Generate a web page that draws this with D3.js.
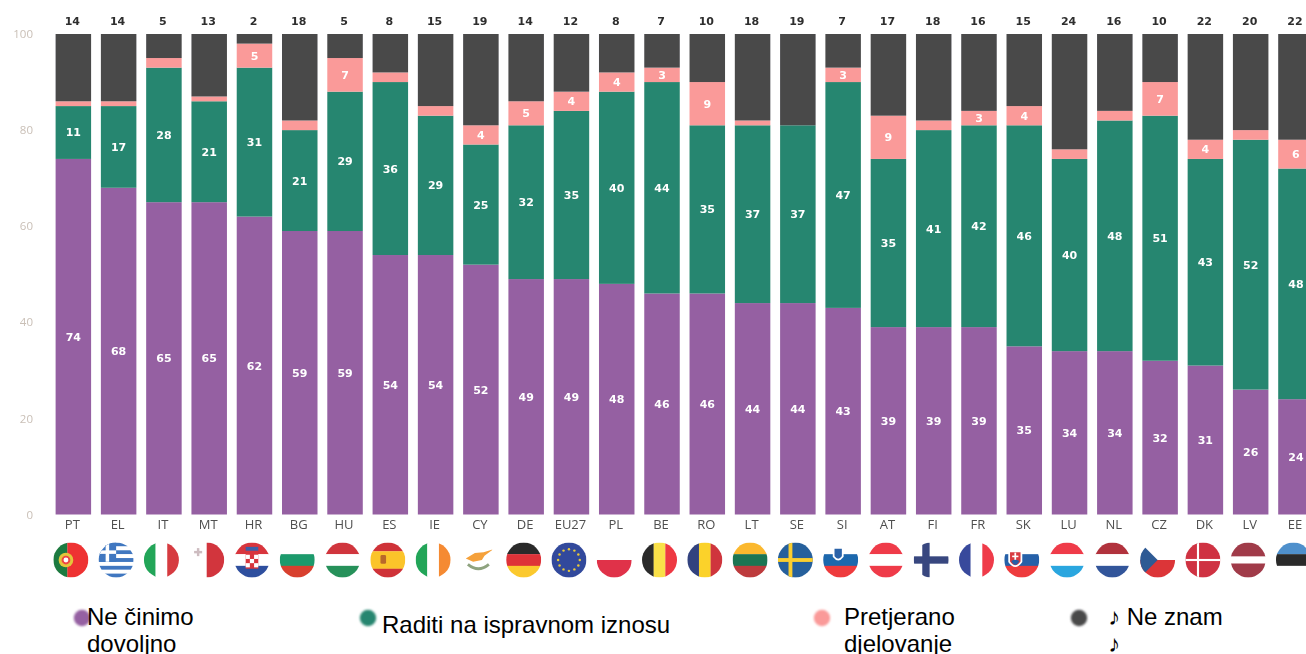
<!DOCTYPE html>
<html><head><meta charset="utf-8">
<style>html,body{margin:0;padding:0;background:#fff;overflow:hidden}svg{display:block}</style>
<script src="https://cdn.jsdelivr.net/npm/d3@7"></script></head><body>
<svg id="c" width="1306" height="654"></svg>
<script>
const categories=["PT","EL","IT","MT","HR","BG","HU","ES","IE","CY","DE","EU27","PL","BE","RO","LT","SE","SI","AT","FI","FR","SK","LU","NL","CZ","DK","LV","EE"];
const notEnough=[74,68,65,65,62,59,59,54,54,52,49,49,48,46,46,44,44,43,39,39,39,35,34,34,32,31,26,24];
const rightAmount=[11,17,28,21,31,21,29,36,29,25,32,35,40,44,35,37,37,47,35,41,42,46,40,48,51,43,52,48];
const excessive=[1,1,2,1,5,2,7,2,2,4,5,4,4,3,9,1,0,3,9,2,3,4,2,2,7,4,2,6];
const dontKnow=[14,14,5,13,2,18,5,8,15,19,14,12,8,7,10,18,19,7,17,18,16,15,24,16,10,22,20,22];
const yTicks=[0,20,40,60,80,100];
const seriesNames=["Ne činimo dovoljno","Raditi na ispravnom iznosu","Pretjerano djelovanje","Ne znam"];
const seriesColors=["#9560A2","#28866F","#FA9A99","#48484A"];
const legendLines=[["Ne činimo","dovoljno"],["Raditi na ispravnom iznosu"],["Pretjerano","djelovanje"],["♪ Ne znam","♪"]];
const legendDotX=[82,368,822,1079], legendTextX=[87,382,844,1108], legendTextY=[625,632.5,625,625];

// Flags: stripes (direction + colours), drawn in a unit circle
const flagStripes={
 PT:["v",[["#1f7a3f",.4],["#ee3030",.6]]],EL:["h",[["#3f77c0",1],["#fff",1],["#3f77c0",1],["#fff",1],["#3f77c0",1],["#fff",1],["#3f77c0",1],["#fff",1],["#3f77c0",1]]],
 IT:["v",[["#22a559",1],["#fff",1],["#d63a40",1]]],MT:["v",[["#fff",1],["#d2343e",1]]],HR:["h",[["#d8343c",1],["#fff",1],["#2f4f9e",1]]],
 BG:["h",[["#fff",1],["#1f9a6c",1],["#d8402f",1]]],HU:["h",[["#d0363e",1],["#fff",1],["#27915a",1]]],ES:["h",[["#cf3338",1],["#fbc42c",2],["#cf3338",1]]],
 IE:["v",[["#22a559",1],["#fff",1],["#f58a32",1]]],CY:["h",[["#fff",1]]],DE:["h",[["#2b2b2b",1],["#de3138",1],["#fbc92d",1]]],EU27:["h",[["#334a9c",1]]],
 PL:["h",[["#fff",1],["#e0334a",1]]],BE:["v",[["#2b2b2b",1],["#f9e04a",1],["#ee3743",1]]],RO:["v",[["#33437f",1],["#fbd22c",1],["#cf343c",1]]],
 LT:["h",[["#fbb82d",1],["#1e7553",1],["#bd3a3d",1]]],SE:["h",[["#27609c",1]]],SI:["h",[["#fff",1],["#1f67ad",1],["#ee3a3c",1]]],
 AT:["h",[["#ef3b4a",1],["#fff",1],["#ef3b4a",1]]],FI:["h",[["#fff",1]]],FR:["v",[["#384a9c",1],["#fff",1],["#ef3b4a",1]]],SK:["h",[["#fff",1],["#2661a8",1],["#ee3a3c",1]]],
 LU:["h",[["#ef3b4a",1],["#fff",1],["#2ba6df",1]]],NL:["h",[["#b1333d",1],["#fff",1],["#33549a",1]]],CZ:["h",[["#fff",1],["#dc3538",1]]],DK:["h",[["#cf3342",1]]],
 LV:["h",[["#a03a48",2],["#fff",1],["#a03a48",2]]],EE:["h",[["#4f90cc",1],["#2b2b2b",1],["#fff",1]]]};
const flagCrosses={SE:["#fbce2d",-.28,.22],FI:["#37477f",-.3,.42],DK:["#fff",-.28,.12]};

const svg=d3.select("#c");
const defs=svg.append("defs");
defs.append("filter").attr("id","soft").attr("x","-5%").attr("y","-5%").attr("width","110%").attr("height","110%").append("feGaussianBlur").attr("stdDeviation",.6);
defs.append("filter").attr("id","softer").attr("x","-30%").attr("y","-30%").attr("width","160%").attr("height","160%").append("feGaussianBlur").attr("stdDeviation",.9);
defs.append("clipPath").attr("id","disc").append("circle").attr("r",1);

const x=d3.scaleBand().domain(categories).range([55.6,1313.7]).paddingInner(.216).paddingOuter(0);
const y=d3.scaleLinear().domain([0,100]).range([514.5,34]);

const rows=categories.map((c,i)=>({c,v:[notEnough[i],rightAmount[i],excessive[i],dontKnow[i]]}));
const chart=svg.append("g").attr("filter","url(#soft)");

rows.forEach(r=>{
  let acc=0;
  const g=chart.append("g");
  r.v.forEach((v,s)=>{
    if(!v){return}
    const isLast=s===3;
    const top=isLast?100:acc+v;
    g.append("rect").attr("x",x(r.c)).attr("width",x.bandwidth())
      .attr("y",y(top)).attr("height",y(acc)-y(top)).attr("fill",seriesColors[s]);
    if(s<3&&v>=3){
      g.append("text").attr("x",x(r.c)+x.bandwidth()/2).attr("y",y(acc+v/2)).attr("dy","0.36em")
       .attr("text-anchor","middle").attr("font-family","DejaVu Sans").attr("font-weight",700)
       .attr("font-size",11).attr("fill","#fff").text(v);
    }
    acc+=v;
  });
  g.append("text").attr("x",x(r.c)+x.bandwidth()/2-1).attr("y",21).attr("dy","0.36em")
    .attr("text-anchor","middle").attr("font-family","DejaVu Sans").attr("font-weight",700)
    .attr("font-size",11).attr("fill","#2e2e2e").text(r.v[3]);
});

// axes
const ya=chart.append("g").attr("transform","translate(33,0)").call(d3.axisLeft(y).tickValues(yTicks).tickSize(0).tickPadding(0));
ya.select(".domain").remove();
ya.selectAll("text").attr("font-family","Open Sans").attr("font-size",11.5).attr("fill","#c9bfb6");
const xa=chart.append("g").attr("transform","translate(-1,516.5)").call(d3.axisBottom(x).tickSize(0).tickPadding(3));
xa.select(".domain").remove();
xa.selectAll("text").attr("font-family","Open Sans").attr("font-size",13).attr("fill","#4f4f4f");

// flags
const fg=chart.append("g");
const flagCx=c=>x(c)+x.bandwidth()/2-2.5;
categories.forEach(c=>{
  const g=fg.append("g").attr("transform",`translate(${flagCx(c)},560) scale(17.5)`);
  const inner=g.append("g").attr("clip-path","url(#disc)");
  const [dir,st]=flagStripes[c];
  const tot=d3.sum(st,d=>d[1]);let p=-1;
  st.forEach(([col,w])=>{
    const l=2*w/tot;
    if(dir==="h")inner.append("rect").attr("x",-1).attr("y",p).attr("width",2).attr("height",l+.01).attr("fill",col);
    else inner.append("rect").attr("x",p).attr("y",-1).attr("width",l+.01).attr("height",2).attr("fill",col);
    p+=l;
  });
  if(flagCrosses[c]){
    const [col,cx,t]=flagCrosses[c];
    inner.append("rect").attr("x",-1).attr("y",-t/2).attr("width",2).attr("height",t).attr("fill",col);
    inner.append("rect").attr("x",cx-t/2).attr("y",-1).attr("width",t).attr("height",2).attr("fill",col);
  }
  if(c==="EL"){
    inner.append("rect").attr("x",-1).attr("y",-1).attr("width",1).attr("height",1.1).attr("fill","#3f77c0");
    inner.append("rect").attr("x",-1).attr("y",-.55).attr("width",1).attr("height",.2).attr("fill","#fff");
    inner.append("rect").attr("x",-.6).attr("y",-1).attr("width",.2).attr("height",1.1).attr("fill","#fff");
  }
  if(c==="PT"){
    inner.append("circle").attr("cx",-.28).attr("r",.42).attr("fill","#e3c63a");
    inner.append("circle").attr("cx",-.28).attr("r",.25).attr("fill","#e44");
    inner.append("circle").attr("cx",-.28).attr("r",.14).attr("fill","#fff");
  }
  if(c==="MT"){
    inner.append("rect").attr("x",-.42-.3).attr("y",-.52).attr("width",.46).attr("height",.14).attr("fill","#cdbcc0");
    inner.append("rect").attr("x",-.56).attr("y",-.68).attr("width",.14).attr("height",.46).attr("fill","#cdbcc0");
  }
  if(c==="HR"){
    inner.append("rect").attr("x",-.36).attr("y",-.55).attr("width",.72).attr("height",1.05).attr("fill","#d8343c");
    inner.append("rect").attr("x",-.36).attr("y",-.75).attr("width",.72).attr("height",.22).attr("fill","#3a5fa8");
    [-.3,-.06,.18].forEach((a,i)=>[-.24,0,.24].forEach((b,j)=>{
      if((i+j)%2===0)inner.append("rect").attr("x",b-.12).attr("y",a).attr("width",.24).attr("height",.24).attr("fill","#fff");
    }));
  }
  if(c==="ES"){
    inner.append("rect").attr("x",-.42).attr("y",-.28).attr("width",.32).attr("height",.5).attr("rx",.08).attr("fill","#b9672b");
  }
  if(c==="CY"){
    inner.append("path").attr("d","M-.72,-.08 L-.2,-.4 L.3,-.45 L.85,-.62 L.35,-.25 L.2,0 L-.3,.1 Z").attr("fill","#f5a13a");
    inner.append("path").attr("d","M-.6,.25 Q0,.75 .6,.25").attr("fill","none").attr("stroke","#8fa37f").attr("stroke-width",.16);
  }
  if(c==="EU27"){
    d3.range(12).forEach(k=>{
      const a=k/12*2*Math.PI;
      inner.append("circle").attr("cx",.62*Math.cos(a)).attr("cy",.62*Math.sin(a)).attr("r",.07).attr("fill","#e8c93a");
    });
  }
  if(c==="SI"){
    inner.append("path").attr("d","M-.4,-.7 H.12 V-.2 Q-.14,.15 -.4,-.2 Z").attr("fill","#2a62a8").attr("stroke","#fff").attr("stroke-width",.1);
  }
  if(c==="SK"){
    inner.append("path").attr("d","M-.72,-.5 H-.02 V.1 Q-.37,.6 -.72,.1 Z").attr("fill","#d83a40").attr("stroke","#fff").attr("stroke-width",.1);
    inner.append("rect").attr("x",-.42).attr("y",-.42).attr("width",.1).attr("height",.55).attr("fill","#fff");
    inner.append("rect").attr("x",-.55).attr("y",-.25).attr("width",.36).attr("height",.09).attr("fill","#fff");
    inner.append("path").attr("d","M-.6,.05 Q-.37,-.08 -.14,.05 Q-.37,.5 -.6,.05Z").attr("fill","#2661a8");
  }
  if(c==="CZ"){
    inner.append("path").attr("d","M-1,-1 L.0,0 L-1,1 Z").attr("fill","#2f5a94");
  }
});

// legend
const lg=svg.append("g");
seriesNames.forEach((n,i)=>{
  lg.append("circle").attr("cx",legendDotX[i]).attr("cy",618).attr("r",8.2).attr("fill",seriesColors[i]).attr("filter","url(#softer)");
  const t=lg.append("text").attr("font-family","Liberation Sans").attr("font-size",24).attr("fill","#000");
  legendLines[i].forEach((line,j)=>t.append("tspan").attr("x",legendTextX[i]).attr("y",legendTextY[i]+j*27).text(line));
});
</script></body></html>
